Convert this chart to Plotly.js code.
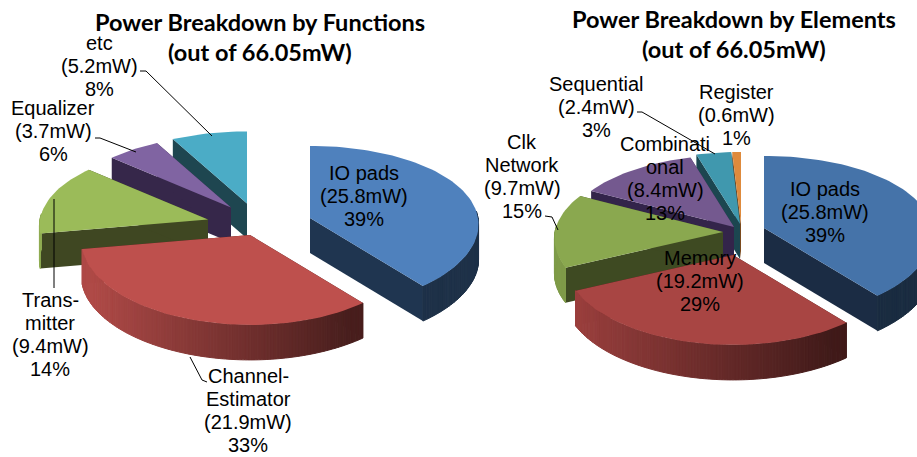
<!DOCTYPE html>
<html><head><meta charset="utf-8">
<script src="https://cdn.plot.ly/plotly-3.0.1.min.js"></script>
<style>html,body{margin:0;padding:0;background:#fff}#c{width:917px;height:457px}</style>
</head><body><div id="c"></div>
<script>
// ---- data ----
const functionValues = [25.8, 21.9, 9.4, 3.7, 5.2];
const functionNames = [["IO pads"], ["Channel-", "Estimator"], ["Trans-", "mitter"], ["Equalizer"], ["etc"]];
const functionPercents = ["39%", "33%", "14%", "6%", "8%"];
const elementValues = [25.8, 19.2, 9.7, 8.4, 2.4, 0.6];
const elementNames = [["IO pads"], ["Memory"], ["Clk", "Network"], ["Combinati", "onal"], ["Sequential"], ["Register"]];
const elementPercents = ["39%", "29%", "15%", "13%", "3%", "1%"];
const titleLeft = ["Power Breakdown by Functions", "(out of 66.05mW)"];
const titleRight = ["Power Breakdown by Elements", "(out of 66.05mW)"];

// ---- styling ----
const pieGeom = {rx: 168, ry: 81, k: 0.11, k2: 0.08, depth: 35};
const leftStyle = {
  cx: 268, cy: 222.5,
  pull: [[42, -4.5], [-18, 12.5], [-60, -3], [-37, -15], [-21, -19]],
  top: ["#4F81BD", "#BE504D", "#9BBB59", "#8064A2", "#4BACC6"],
  cut: ["#1F3550", "#4A1C1A", "#3F4722", "#36274A", "#1E4650"],
  order: [4, 3, 2, 0, 1]
};
const rightStyle = {
  cx: 740, cy: 230,
  pull: [[24, -2], [-7, 25], [-17, 2], [-6, -3], [0, -6], [1, -6]],
  top: ["#4573A9", "#A84543", "#8AA84F", "#74598F", "#4098AE", "#DE8A3C"],
  cut: ["#1B2C44", "#451A18", "#3E4A22", "#33244A", "#1C4650", "#7A4A1E"],
  order: [5, 4, 3, 2, 0, 1]
};
const labelFont = {family: "Liberation Sans, Arial, sans-serif", size: 20, color: "#000"};
const titleFont = {family: "Lato, Carlito, sans-serif", size: 23.5, color: "#000"};
const lineGap = 23;
const leftLabelAnchor = [[364, 173], [248, 376], [50, 300], [53, 108], [99, 43]];
const rightLabelAnchor = [[825, 189], [700, 258], [522, 142], [665, 144], [596, 84], [736, 92]];
const leaders = [
  [[140, 71], [146, 71], [212, 136]],
  [[95, 138], [100, 138], [136, 152]],
  [[54, 199], [54, 288]],
  [[190, 357], [202, 380], [207, 382]],
  [[637, 112], [642, 112], [715, 154]],
  [[545, 216], [552, 217], [558, 230]]
];

// ---- projection helpers ----
function project(ax, ay, aDeg) {
  const a = aDeg * Math.PI / 180, c = Math.sin(a), s = -Math.cos(a), g = pieGeom;
  return [ax + g.rx * c * (1 + g.k2 * s), ay + g.ry * s * (1 + g.k * s)];
}
function shade(hex, f) {
  const n = parseInt(hex.slice(1), 16);
  return "rgb(" + [(n >> 16) & 255, (n >> 8) & 255, n & 255].map(v => Math.round(v * f)).join(",") + ")";
}
function poly(pts, color, lineW) {
  return {x: pts.map(p => p[0]).concat(pts[0][0]), y: pts.map(p => p[1]).concat(pts[0][1]),
    type: "scatter", mode: "lines", fill: "toself", fillcolor: color,
    line: {color: color, width: lineW || 0}, hoverinfo: "skip", showlegend: false};
}
function arcPts(ax, ay, a0, a1, dy) {
  const n = Math.max(2, Math.ceil((a1 - a0) / 2)), out = [];
  for (let i = 0; i <= n; i++) {
    const p = project(ax, ay, a0 + (a1 - a0) * i / n);
    out.push([p[0], p[1] + (dy || 0)]);
  }
  return out;
}
function pieTraces(values, st) {
  const total = values.reduce((a, b) => a + b, 0), starts = [];
  let acc = 0;
  values.forEach(v => { starts.push(acc / total * 360); acc += v; });
  const traces = [], d = pieGeom.depth;
  st.order.forEach(i => {
    const a0 = starts[i], a1 = a0 + values[i] / total * 360;
    const ax = st.cx + st.pull[i][0], ay = st.cy + st.pull[i][1];
    const p0 = project(ax, ay, a0), p1 = project(ax, ay, a1);
    // cut faces
    traces.push(poly([[ax, ay], p0, [p0[0], p0[1] + d], [ax, ay + d]], st.cut[i]));
    traces.push(poly([[ax, ay], p1, [p1[0], p1[1] + d], [ax, ay + d]], st.cut[i]));
    // rim as fine shaded strips, bright at left and dark at right
    const step = 1;
    for (let a = a0; a < a1; a += step) {
      const b = Math.min(a + step, a1), m = (a + b) / 2 * Math.PI / 180;
      if (-Math.cos(m) < -0.08) continue;
      const f = Math.max(0.38, Math.min(0.92, 0.92 - 0.54 * (Math.sin(m) + 0.9) / 1.45));
      const top = arcPts(ax, ay, a, b, 0), bot = arcPts(ax, ay, a, b, d).reverse();
      traces.push(poly(top.concat(bot), shade(st.top[i], f), 1));
    }
    // top surface
    traces.push(poly([[ax, ay]].concat(arcPts(ax, ay, a0, a1, 0)), st.top[i]));
  });
  return traces;
}
function labelAnnotations(values, names, pcts, anchors) {
  const out = [];
  values.forEach((v, i) => {
    const lines = names[i].concat(["(" + v.toFixed(1) + "mW)", pcts[i]]);
    lines.forEach((t, j) => out.push({x: anchors[i][0], y: anchors[i][1] + j * lineGap, text: t,
      xref: "x", yref: "y", showarrow: false, xanchor: "center", yanchor: "middle", font: labelFont}));
  });
  return out;
}
function titleAnnotations(lines, x, y) {
  return lines.map((t, j) => ({x: x, y: y + j * 30, text: "<b>" + t + "</b>", xref: "x", yref: "y",
    showarrow: false, xanchor: "center", yanchor: "middle", font: titleFont}));
}

const traces = pieTraces(functionValues, leftStyle).concat(pieTraces(elementValues, rightStyle));
leaders.forEach(l => traces.push({x: l.map(p => p[0]), y: l.map(p => p[1]), type: "scatter", mode: "lines",
  line: {color: "#000", width: 1}, hoverinfo: "skip", showlegend: false}));

const layout = {
  width: 917, height: 457, margin: {l: 0, r: 0, t: 0, b: 0},
  paper_bgcolor: "#fff", plot_bgcolor: "#fff", showlegend: false,
  xaxis: {range: [0, 917], visible: false, fixedrange: true},
  yaxis: {range: [457, 0], visible: false, fixedrange: true},
  annotations: [].concat(
    titleAnnotations(titleLeft, 260, 22), titleAnnotations(titleRight, 733.5, 19),
    labelAnnotations(functionValues, functionNames, functionPercents, leftLabelAnchor),
    labelAnnotations(elementValues, elementNames, elementPercents, rightLabelAnchor))
};
Plotly.newPlot("c", traces, layout, {displayModeBar: false, staticPlot: true});
</script></body></html>
